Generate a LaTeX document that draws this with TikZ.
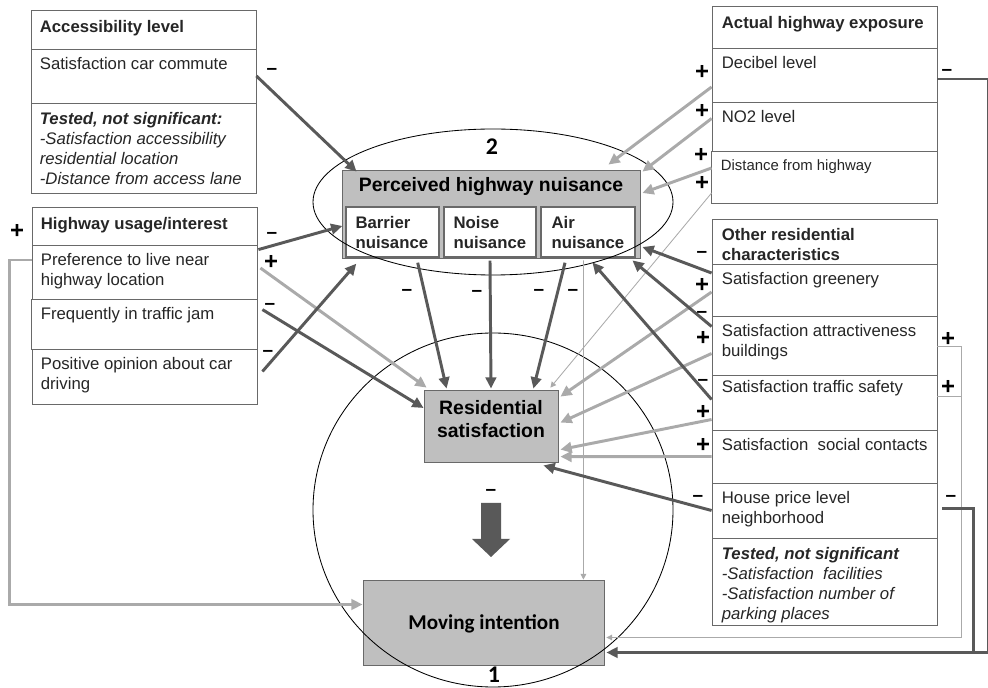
\documentclass[tikz,border=0pt]{standalone}
\usepackage{fontspec}
\setmainfont{Liberation Sans}
\newfontfamily\calib{Carlito}
\usetikzlibrary{calc,fit,arrows.meta}

\definecolor{darkline}{RGB}{89,89,89}
\definecolor{lightline}{RGB}{170,170,170}
\definecolor{boxfill}{RGB}{191,191,191}
\definecolor{boxline}{RGB}{105,105,105}

\tikzset{
    cell/.style={draw=boxline, fill=white, inner sep=0pt, line width=0.6pt},
    txt/.style={anchor=north west, inner sep=0pt, align=left, text=black!85,
        font=\fontsize{11.9}{14}\selectfont},
    headtxt/.style={txt, font=\fontsize{11.9}{14}\selectfont\bfseries},
    bigtxt/.style={inner sep=0pt, align=center, text=black,
        font=\fontsize{13.8}{16.5}\selectfont\bfseries},
    numlbl/.style={inner sep=0pt, text=black, font=\fontsize{17}{17}\selectfont\calib\bfseries},
    negline/.style={draw=darkline, line width=2.1pt, -{Triangle[length=8pt,width=7.5pt]}},
    posline/.style={draw=lightline, line width=2.1pt, -{Triangle[length=8pt,width=7.5pt]}},
    faint/.style={draw=lightline, line width=0.6pt, -{Triangle[length=4pt,width=4pt]}},
    signlbl/.style={inner sep=0pt, text=black, font=\fontsize{17}{17}\selectfont\bfseries},
    minuslbl/.style={inner sep=0pt, text=black, font=\fontsize{13.5}{13.5}\selectfont\bfseries},
}

\begin{document}
\begin{tikzpicture}[x=0.025cm, y=-0.025cm]
\useasboundingbox (0,0) rectangle (988,688);

% accessibility level
\node[cell, fit={(31,10) (256,49)}] (acc) {};
\node[headtxt] (accT) at ($(acc.north west)+(9,11)$) {Accessibility level};
\node[cell, fit={(31,49) (256,103)}] (commute) {};
\node[txt] (commuteT) at ($(commute.north west)+(9,9)$) {Satisfaction car commute};
\node[cell, fit={(31,103) (256,193)}] (testA) {};
\node[txt] (testAT) at ($(testA.north west)+(9,10)$) {\textbf{\textit{Tested, not significant:}}\\
    \textit{-Satisfaction accessibility}\\\textit{residential location}\\\textit{-Distance from access lane}};

% highway usage/interest
\node[cell, fit={(32,207) (257,245)}] (hwy) {};
\node[headtxt] (hwyT) at ($(hwy.north west)+(9,11)$) {Highway usage/interest};
\node[cell, fit={(32,245) (257,299)}] (pref) {};
\node[txt] (prefT) at ($(pref.north west)+(9,9)$) {Preference to live near\\highway location};
\node[cell, fit={(31,299) (257,349)}] (jam) {};
\node[txt] (jamT) at ($(jam.north west)+(10,9)$) {Frequently in traffic jam};
\node[cell, fit={(32,349) (257,404)}] (opinion) {};
\node[txt] (opinionT) at ($(opinion.north west)+(9,9)$) {Positive opinion about car\\driving};

% actual highway exposure
\node[cell, fit={(712,6) (937,48)}] (expo) {};
\node[headtxt] (expoT) at ($(expo.north west)+(10,11)$) {Actual highway exposure};
\node[cell, fit={(712,48) (937,102)}] (decibel) {};
\node[txt] (decibelT) at ($(decibel.north west)+(10,9)$) {Decibel level};
\node[cell, fit={(712,102) (937,151)}] (notwo) {};
\node[txt] (notwoT) at ($(notwo.north west)+(10,9)$) {NO2 level};
\node[cell, fit={(711,151) (937,203)}] (dist) {};
\node[txt, font=\fontsize{10.6}{13}\selectfont] (distT) at ($(dist.north west)+(10,9)$) {Distance from highway};

% other residential characteristics
\node[cell, fit={(712,219) (937,264)}] (other) {};
\node[headtxt] (otherT) at ($(other.north west)+(10,10)$) {Other residential\\characteristics};
\node[cell, fit={(712,264) (937,316)}] (green) {};
\node[txt] (greenT) at ($(green.north west)+(10,9)$) {Satisfaction greenery};
\node[cell, fit={(712,316) (937,375)}] (attract) {};
\node[txt] (attractT) at ($(attract.north west)+(10,9)$) {Satisfaction attractiveness\\buildings};
\node[cell, fit={(712,375) (937,430)}] (safety) {};
\node[txt] (safetyT) at ($(safety.north west)+(10,6)$) {Satisfaction traffic safety};
\node[cell, fit={(712,430) (937,483)}] (social) {};
\node[txt] (socialT) at ($(social.north west)+(10,9)$) {Satisfaction\ \ social contacts};
\node[cell, fit={(712,483) (937,538)}] (price) {};
\node[txt] (priceT) at ($(price.north west)+(10,9)$) {House price level\\neighborhood};
\node[cell, fit={(712,538) (937,625)}] (testB) {};
\node[txt] (testBT) at ($(testB.north west)+(10,10)$) {\textbf{\textit{Tested, not significant}}\\
    \textit{-Satisfaction\ \ facilities}\\\textit{-Satisfaction number of}\\\textit{parking places}};

% perceived highway nuisance
\node[cell, fill=boxfill, fit={(342,170) (640,258)}] (nuis) {};
\node[bigtxt] (nuisT) at (491,187) {Perceived highway nuisance};
\node[cell, line width=1pt, fit={(346,207) (439,257)}] (barrier) {};
\node[headtxt] (barrierT) at ($(barrier.north west)+(10,10)$) {Barrier\\nuisance};
\node[cell, line width=1pt, fit={(444,207) (536,257)}] (noise) {};
\node[headtxt] (noiseT) at ($(noise.north west)+(10,10)$) {Noise\\nuisance};
\node[cell, line width=1pt, fit={(541,207) (635,257)}] (air) {};
\node[headtxt] (airT) at ($(air.north west)+(11,10)$) {Air\\nuisance};

% outcomes
\node[cell, fill=boxfill, fit={(424,390) (558,462)}] (ressat) {};
\node[bigtxt] (ressatT) at (491,419) {Residential\\satisfaction};
\node[cell, fill=boxfill, fit={(363,580) (604,665)}] (moving) {};
\node[bigtxt, font=\fontsize{15}{18}\selectfont\calib\bfseries] (movingT) at (484,624) {Moving intention};

% the two groupings
\draw[line width=0.6pt] (493,202) ellipse [x radius=180, y radius=73];
\draw[line width=0.6pt] (493,510) ellipse [x radius=180, y radius=177];
\node[numlbl] (two) at (492,147) {2};
\node[numlbl] (one) at (494,675) {1};
\fill[darkline] (481,503) -- (501,503) -- (501,539) -- (510,539) -- (491,557) -- (472,539) -- (481,539) -- cycle;

% left side
\draw[negline] (commute.east) -- ($(nuis.north west)+(15,2)$);
\draw[negline] ($(pref.north east)+(1,5)$) -- ($(barrier.west)+(-3,-6)$);
\draw[posline] ($(pref.east)+(3,-4)$) -- ($(ressat.north west)+(3,-2)$);
\draw[negline] ($(jam.north east)+(5,11)$) -- ($(ressat.west)+(0,-18)$);
\draw[negline] ($(opinion.east)+(5,-5)$) -- ($(barrier.south west)+(11,6)$);
\draw[posline] ($(pref.west)+(0,-12)$) -- ++(-22,0) |- ($(moving.west)+(0,-18)$);

% nuisance to satisfaction
\draw[negline] ($(barrier.south east)+(-22,5)$) -- ($(ressat.north west)+(23,-1)$);
\draw[negline] ($(noise.south)+(0,3)$) -- ($(ressat.north)+(0,-1)$);
\draw[negline] ($(air.south)+(-23,5)$) -- ($(ressat.north east)+(-25,-1)$);
\draw[faint] ($(nuis.south east)+(-57,2)$) -- ($(moving.north east)+(-21,0)$);

% actual exposure
\draw[posline] ($(decibel.west)+(0,12)$) -- ($(nuis.north east)+(-32,-5)$);
\draw[posline] ($(notwo.west)+(0,-8)$) -- ($(nuis.north east)+(2,2)$);
\draw[posline] ($(dist.west)+(1,-9)$) -- ($(nuis.east)+(2,-21)$);
\draw[faint] ($(dist.west)+(1,16)$) -- ($(ressat.north east)+(-8,-2)$);
\draw[negline] ($(decibel.east)+(0,4)$) -- ++(51,0) |- ($(moving.east)+(2,30)$);

% other residential characteristics
\draw[negline] ($(green.west)+(0,-17)$) -- ($(nuis.east)+(2,33)$);
\draw[posline] ($(green.west)+(0,2)$) -- ($(ressat.north east)+(2,7)$);
\draw[negline] ($(attract.west)+(0,-19)$) -- ($(nuis.south east)+(-8,2)$);
\draw[posline] ($(attract.west)+(0,8)$) -- ($(ressat.north east)+(2,33)$);
\draw[negline] ($(safety.west)+(0,-3)$) -- ($(nuis.south east)+(-48,4)$);
\draw[posline] ($(safety.west)+(0,17)$) -- ($(ressat.north east)+(2,60)$);
\draw[posline] (social.west) -- ($(ressat.north east)+(2,67)$);
\draw[negline] (price.west) -- ($(ressat.south east)+(-15,3)$);
\draw[faint] ($(attract.east)+(0,1)$) -- ++(24,0) |- ($(moving.east)+(2,15)$);
\draw[draw=lightline, line width=0.6pt] ($(safety.east)+(0,-6)$) -- ++(24,0);
\draw[draw=darkline, line width=2.1pt] ($(price.east)+(5,-2)$) -- ++(31,0) -- ++(0,144);

% signs
\foreach \x/\y [count=\i] in {272/71, 272/235, 270/306, 268/353, 407/292, 477/293, 539/292,
    573/292, 491/492, 947/72, 702/254, 702/314, 703/382, 698/498, 951/498}
    \node[minuslbl] (minus\i) at (\x,\y) {–};
\foreach \x/\y [count=\i] in {17/231, 271/262, 702/72, 702/111, 701/155, 702/183, 702/285,
    703/338, 703/412, 703/445, 948/339, 948/387}
    \node[signlbl] (plus\i) at (\x,\y) {+};
\end{tikzpicture}
\end{document}
